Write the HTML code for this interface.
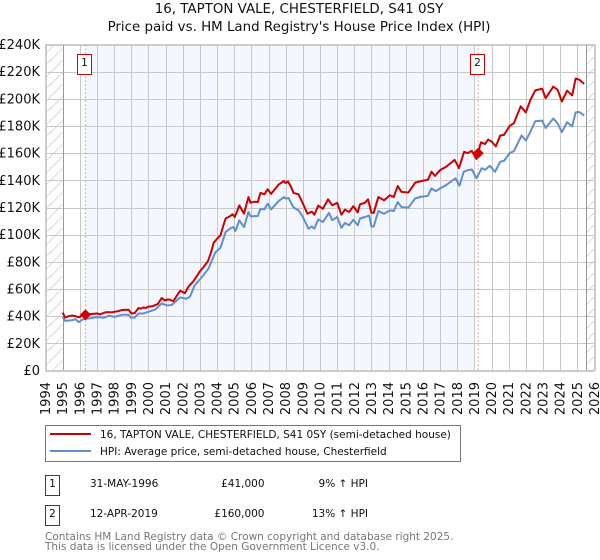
<!DOCTYPE html>
<html>
<head>
<meta charset="utf-8">
<style>
html,body{margin:0;padding:0;background:#fff;}
body{width:600px;height:560px;overflow:hidden;}
svg{display:block;font-family:"DejaVu Sans","Liberation Sans",sans-serif;}
</style>
</head>
<body>
<svg id="chart" width="600" height="560" viewBox="0 0 600 560" xmlns="http://www.w3.org/2000/svg">
  <defs>
    <pattern id="hatch" patternUnits="userSpaceOnUse" width="12" height="12" patternTransform="translate(0 3)">
      <line x1="0" y1="12" x2="12" y2="0" stroke="#d8d8d8" stroke-width="1"/>
    </pattern>
  </defs>
  <text x="299" y="13" text-anchor="middle" font-size="13.4" fill="#111">16, TAPTON VALE, CHESTERFIELD, S41 0SY</text>
  <text x="299" y="31" text-anchor="middle" font-size="13.4" fill="#111">Price paid vs. HM Land Registry's House Price Index (HPI)</text>
  <g id="plot"></g>

  <g>
    <rect x="45.5" y="425.5" width="415" height="36" fill="#fff" stroke="#777" stroke-width="1"/>
    <line x1="50" y1="434" x2="91" y2="434" stroke="#cc0000" stroke-width="2"/>
    <text x="100" y="438" font-size="10.5" fill="#111">16, TAPTON VALE, CHESTERFIELD, S41 0SY (semi-detached house)</text>
    <line x1="50" y1="451" x2="91" y2="451" stroke="#5f8fd0" stroke-width="2"/>
    <text x="100" y="455" font-size="10.5" fill="#111">HPI: Average price, semi-detached house, Chesterfield</text>
  </g>

  <g font-size="10.5" fill="#111">
    <rect x="45.5" y="475.5" width="14" height="20" fill="#fff" stroke="#cc0000" stroke-width="1"/>
    <text x="52.5" y="487" text-anchor="middle">1</text>
    <text x="90" y="487">31-MAY-1996</text>
    <text x="264.5" y="487" text-anchor="end">£41,000</text>
    <text x="368" y="487" text-anchor="end">9% ↑ HPI</text>
  </g>
  <g font-size="10.5" fill="#111">
    <rect x="45.5" y="505.5" width="14" height="20" fill="#fff" stroke="#cc0000" stroke-width="1"/>
    <text x="52.5" y="517" text-anchor="middle">2</text>
    <text x="90" y="517">12-APR-2019</text>
    <text x="264.5" y="517" text-anchor="end">£160,000</text>
    <text x="368" y="517" text-anchor="end">13% ↑ HPI</text>
  </g>
  <text x="45" y="540" font-size="10.5" fill="#777">Contains HM Land Registry data © Crown copyright and database right 2025.</text>
  <text x="45" y="550" font-size="10.5" fill="#777">This data is licensed under the Open Government Licence v3.0.</text>
</svg>
<script>
var yearTicks = [1994,1995,1996,1997,1998,1999,2000,2001,2002,2003,2004,2005,2006,2007,2008,2009,2010,2011,2012,2013,2014,2015,2016,2017,2018,2019,2020,2021,2022,2023,2024,2025,2026];
var valueTicks = [0,20,40,60,80,100,120,140,160,180,200,220,240];
var valueTickLabels = ["£0","£20K","£40K","£60K","£80K","£100K","£120K","£140K","£160K","£180K","£200K","£220K","£240K"];

var priceDates = [1995,1995.15,1995.35,1995.55,1995.75,1995.93,1996.1,1996.33,1996.6,1997,1997.2,1997.4,1997.6,1997.85,1998.06,1998.25,1998.45,1998.84,1999,1999.2,1999.42,1999.55,1999.7,1999.85,2000,2000.2,2000.4,2000.55,2000.78,2000.95,2001.1,2001.25,2001.45,2001.65,2001.85,2002.13,2002.33,2002.6,2002.8,2003,2003.2,2003.47,2003.65,2003.8,2004,2004.2,2004.35,2004.5,2004.75,2004.9,2005.03,2005.3,2005.57,2005.83,2005.95,2006.15,2006.37,2006.53,2006.76,2006.95,2007.15,2007.4,2007.6,2007.9,2008,2008.13,2008.3,2008.46,2008.75,2009,2009.27,2009.52,2009.67,2009.9,2010.17,2010.47,2010.72,2011,2011.25,2011.45,2011.7,2011.94,2012.2,2012.33,2012.62,2012.8,2013,2013.13,2013.4,2013.73,2014.08,2014.3,2014.53,2014.75,2015.15,2015.55,2015.92,2016.3,2016.5,2016.7,2017,2017.35,2017.85,2018.1,2018.4,2018.6,2018.85,2019.12,2019.38,2019.62,2019.8,2020,2020.25,2020.5,2020.73,2021.05,2021.3,2021.7,2022,2022.27,2022.55,2022.95,2023.15,2023.6,2023.85,2024.1,2024.4,2024.7,2024.9,2025.12,2025.4];
var priceValues = [42.5,39,40,40.5,40,39.2,40,41,41.5,42,41.3,42.5,43,42.8,43.3,43.7,44.5,44.7,42,42.3,46,45.5,46.4,46,47,47.2,48.2,49,53.4,51.5,52.3,52.2,51,55,58.7,57,61.7,65.4,69,73,76,80.5,87,94,97,99.5,106,112,113.5,115,113,121.5,115.5,127.7,123.5,124.2,124,130.7,129.7,133.4,130,134,137,139.5,138,139.3,135.5,130.7,129.7,123,115.4,117,114.7,121.4,119,126,121.6,123.5,114.7,118.4,116.7,121,116.4,122.3,123.5,126,116,116,127.7,125.3,129,127.7,135.8,131.5,131,138.3,139.5,140.5,146.4,143.3,147.5,150,155,149,161,160,161.7,155.7,168,166.7,170,168.6,165,173,173.5,180,182,194.5,190,199.5,206.2,207.4,200.5,209,206.6,198,206,202.5,215,214,211];

var hpiDates = [1995,1995.15,1995.35,1995.55,1995.75,1995.93,1996.2,1996.5,1997,1997.4,1997.7,1998.06,1998.45,1998.84,1999,1999.2,1999.42,1999.7,2000,2000.4,2000.78,2001.07,2001.36,2001.85,2002.2,2002.42,2002.7,2003,2003.5,2003.9,2004.2,2004.5,2004.75,2004.95,2005.07,2005.3,2005.57,2005.83,2005.95,2006.37,2006.53,2006.76,2006.95,2007.15,2007.6,2007.9,2008.03,2008.17,2008.26,2008.46,2008.75,2009,2009.33,2009.52,2009.67,2009.9,2010.17,2010.52,2010.72,2011,2011.25,2011.45,2011.7,2011.94,2012.2,2012.33,2012.62,2012.87,2013,2013.13,2013.4,2013.73,2014.08,2014.3,2014.53,2014.75,2015.15,2015.55,2015.92,2016.27,2016.5,2016.75,2017.1,2017.35,2017.9,2018.13,2018.38,2018.62,2018.85,2019.12,2019.43,2019.62,2019.9,2020.2,2020.5,2020.73,2021.05,2021.3,2021.75,2022,2022.27,2022.55,2022.95,2023.15,2023.6,2023.85,2024.1,2024.4,2024.7,2024.9,2025.12,2025.4];
var hpiValues = [39.5,36.5,36.8,37,37.8,35.6,37.8,38.3,39.3,38.8,40.3,39.5,41,41,38.8,39,42,42,43.2,45,49.4,47.9,48.2,53.8,52.8,54.3,62.9,67,75,87,90.4,102,104.4,105.6,102.7,110.5,105.6,116.7,113.5,113.7,119,118.6,122.8,118.6,124.8,127.7,126.5,127,124.6,120,118,113,104.4,106,104.4,111.2,109.3,116,110.6,113,105,108.6,106.9,111,106.9,111.9,113,114.2,106,106,117.4,115.4,117.9,117.4,124,120.3,119.9,126.7,128,128.5,134,132,134.8,136.5,141.5,136,146.4,147.5,148,141.5,149,147.7,150.7,146.2,153.6,154.4,160,161.5,173,169.3,176,183.5,184,178.5,185.5,182,175.5,182.8,179.8,190,190.3,187.8];

var saleDates = [1996.33,2019.22];
var saleValues = [41,160];
var saleLabels = ["1","2"];
var dataStart = 1995;
var dataEnd = 2025.49;
var shadeStart = 1996.33;
var shadeEnd = 2019;

var NS = "http://www.w3.org/2000/svg";
var plot = document.getElementById("plot");
var L = 45.5, R = 594.5, T = 44.5, B = 370.5;
function xScale(t){ return L + (t - 1994) / 32 * (R - L); }
function yScale(v){ return B - v / 240 * (B - T); }
function make(tag, attrs, parent){
  var el = document.createElementNS(NS, tag);
  for (var k in attrs) el.setAttribute(k, attrs[k]);
  (parent || plot).appendChild(el);
  return el;
}
function linePath(dates, values){
  var d = "";
  for (var i = 0; i < dates.length; i++) {
    d += (i ? "L" : "M") + xScale(dates[i]).toFixed(2) + " " + yScale(values[i]).toFixed(2);
  }
  return d;
}

var el;
el = make("rect", {x:xScale(shadeStart), y:T, width:xScale(shadeEnd)-xScale(shadeStart), height:B-T, fill:"#f4f7fe"});



el = make("rect", {x:L, y:T, width:xScale(dataStart)-L, height:B-T, fill:"url(#hatch)"});



el = make("rect", {x:xScale(dataEnd), y:T, width:R-xScale(dataEnd), height:B-T, fill:"url(#hatch)"});



valueTicks.forEach(function(v, i){
  var g = make("line", {x1:L, x2:R, y1:Math.round(yScale(v))+0.5, y2:Math.round(yScale(v))+0.5, stroke:"#c8c8c8", "stroke-width":1});
  
  
  var t = make("text", {x:40, y:yScale(v)+4.5, "text-anchor":"end", "font-size":13, fill:"#111"});
  t.textContent = valueTickLabels[i];
  
  
});

yearTicks.forEach(function(y){
  var px = Math.round(xScale(y)) + 0.5;
  var g = make("line", {x1:px, x2:px, y1:T, y2:B, stroke:"#c8c8c8", "stroke-width":1});
  
  
  var t = make("text", {x:0, y:0, "text-anchor":"end", "font-size":13, fill:"#111", transform:"translate(" + (xScale(y)+4.5) + " 382) rotate(-90)"});
  t.textContent = y;
  
  
});

[dataStart, dataEnd].forEach(function(d){
  var px = Math.round(xScale(d)) + 0.5;
  var g = make("line", {x1:px, x2:px, y1:T, y2:B, stroke:"#999", "stroke-width":1});
  
  
});

saleDates.forEach(function(d){
  var g = make("line", {x1:xScale(d), x2:xScale(d), y1:T, y2:B, stroke:"#f07c7c", "stroke-width":1, "stroke-dasharray":"1.5 2.5"});
  
  
});

el = make("path", {d:linePath(hpiDates, hpiValues), fill:"none", stroke:"#5f8fd0", "stroke-width":2, "stroke-linejoin":"round"});



el = make("path", {d:linePath(priceDates, priceValues), fill:"none", stroke:"#cc0000", "stroke-width":2, "stroke-linejoin":"round"});



saleDates.forEach(function(d, i){
  var cx = xScale(d), cy = yScale(saleValues[i]);
  var m = make("polygon", {points:(cx-5.5)+","+cy+" "+cx+","+(cy-5.5)+" "+(cx+5.5)+","+cy+" "+cx+","+(cy+5.5), fill:"#cc0000"});
  
  
  var b = make("rect", {x:Math.round(cx)-7.5, y:54.5, width:14, height:20, fill:"#fff", stroke:"#cc0000", "stroke-width":1});
  
  
  var t = make("text", {x:Math.round(cx)-0.5, y:66, "text-anchor":"middle", "font-size":10.5, fill:"#111"});
  t.textContent = saleLabels[i];
  
  
});

el = make("rect", {x:L, y:T, width:R-L, height:B-T, fill:"none", stroke:"#cfcfcf", "stroke-width":1});


</script>
</body>
</html>
